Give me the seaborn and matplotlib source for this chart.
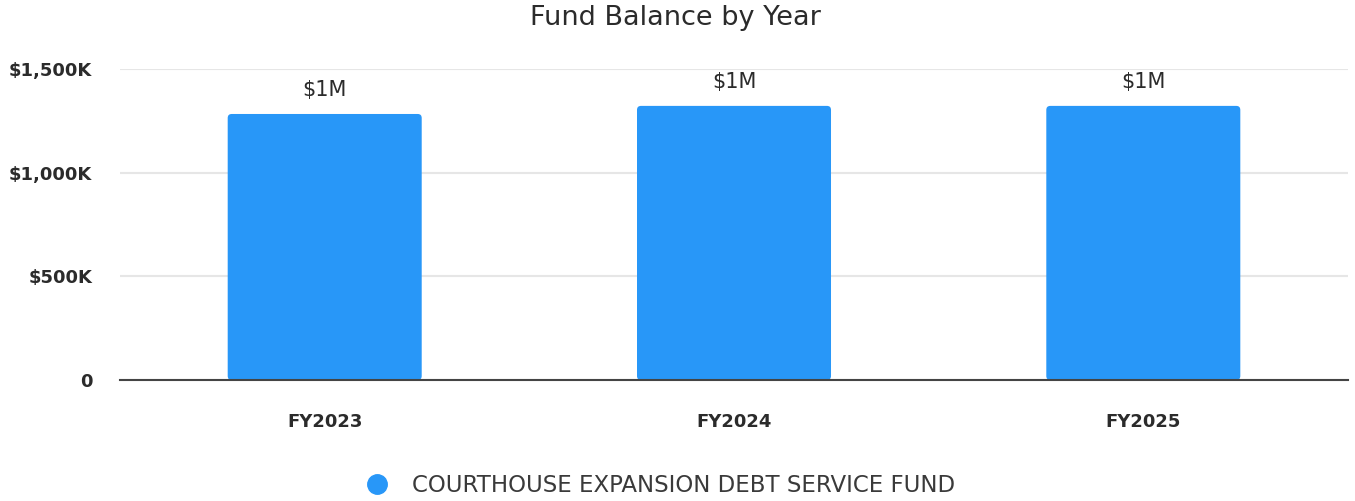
import matplotlib
matplotlib.use("Agg")
import matplotlib.pyplot as plt
from matplotlib.patches import FancyBboxPatch
from matplotlib.lines import Line2D
import pandas as pd
import seaborn as sns

# data (thousands of dollars)
years = ["FY2023", "FY2024", "FY2025"]
balances = [1283, 1322, 1322]
bar_labels = ["$1M", "$1M", "$1M"]
series_name = "COURTHOUSE EXPANSION DEBT SERVICE FUND"
y_ticks = [0, 500, 1000, 1500]
y_tick_labels = ["0", "$500K", "$1,000K", "$1,500K"]

bar_color = "#2897f8"
text_color = "#2b2b2b"

sns.set_style("white")
plt.rcParams["font.family"] = ["DejaVu Sans"]

df = pd.DataFrame({"Year": years, "Balance": balances})

fig = plt.figure(figsize=(13.55, 5.01), dpi=100)
ax = fig.add_axes([0.0886, 0.2415, 0.9062, 0.6208])

sns.barplot(data=df, x="Year", y="Balance", color=bar_color, width=0.474,
            saturation=1, ax=ax, zorder=3)

# swap plain rectangles for rounded ones
x_per_px = 3 / 1228
y_per_px = 1500 / 311
aspect = y_per_px / x_per_px
for p in list(ax.patches):
    x, y, w, h = p.get_x(), p.get_y(), p.get_width(), p.get_height()
    p.remove()
    r = FancyBboxPatch((x, y), w, h,
                       boxstyle=f"round,pad=0,rounding_size={4 * x_per_px}",
                       mutation_aspect=aspect, facecolor=bar_color,
                       edgecolor="none", zorder=3)
    ax.add_patch(r)

for i, (v, lab) in enumerate(zip(balances, bar_labels)):
    ax.annotate(lab, (i, v), xytext=(0, 10), textcoords="offset points",
                ha="center", va="bottom", fontsize=15, color=text_color)

ax.set_xlim(-0.5, 2.5)
ax.set_ylim(0, 1500)
ax.set_yticks(y_ticks)
ax.set_yticklabels(y_tick_labels, fontsize=13, fontweight="bold", color=text_color)
ax.set_xticklabels(years, fontsize=13, fontweight="bold", color=text_color)
ax.tick_params(axis="y", length=0, pad=20)
ax.tick_params(axis="x", length=0, pad=24)
ax.set_xlabel("")
ax.set_ylabel("")

ax.yaxis.grid(True, color="#e6e6e6", linewidth=1.5, zorder=0)
ax.set_axisbelow(True)
for s in ["top", "right", "left"]:
    ax.spines[s].set_visible(False)
ax.spines["bottom"].set_color("#444444")
ax.spines["bottom"].set_linewidth(1.5)
ax.spines["bottom"].set_zorder(4)

fig.text(0.4985, 0.965, "Fund Balance by Year", ha="center", va="center",
         fontsize=19.5, color=text_color)

handle = Line2D([], [], marker="o", linestyle="none", markersize=14,
                markerfacecolor=bar_color, markeredgecolor=bar_color)
fig.legend([handle], [series_name], loc="center", bbox_to_anchor=(0.483, 0.03),
           frameon=False, handletextpad=0.5,
           prop={"size": 16.5}, labelcolor="#3a3a3a")

fig.savefig("out.png", dpi=100)
